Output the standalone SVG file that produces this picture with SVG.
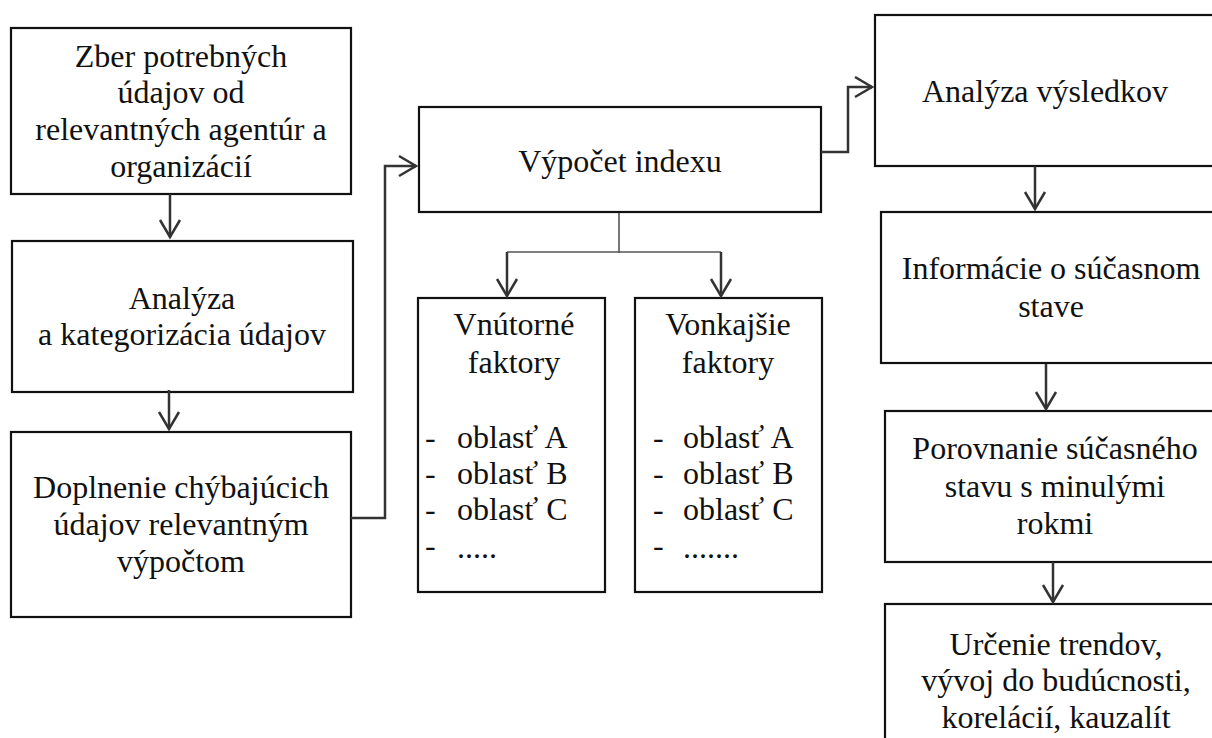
<svg xmlns="http://www.w3.org/2000/svg" width="1212" height="738" viewBox="0 0 1212 738">
<style>
.box{fill:#fff;stroke:#111;stroke-width:2.2}
text{font-family:"Liberation Serif","Times New Roman",serif;font-size:32px;fill:#111}
.t{text-anchor:middle}
.c{fill:none;stroke:#333;stroke-width:2.5}
.thin{fill:none;stroke:#555;stroke-width:1.6}
</style>
<defs>
<marker id="ah" markerUnits="userSpaceOnUse" viewBox="-2 -2 24 26" markerWidth="24" markerHeight="26" refX="18" refY="10" orient="auto">
<path d="M1,0 L18,10 L1,20" fill="none" stroke="#333" stroke-width="2.5"/>
</marker>
</defs>
<rect width="1212" height="738" fill="#fff"/>
<g id="n1"><rect class="box" x="11" y="28" width="340" height="166"/>
<text class="t" x="181" y="67">Zber potrebných</text>
<text class="t" x="181" y="103">údajov od</text>
<text class="t" x="181" y="140">relevantných agentúr a</text>
<text class="t" x="181" y="177">organizácií</text></g>
<g id="n2"><rect class="box" x="12" y="241" width="341" height="151"/>
<text class="t" x="182" y="309">Analýza</text>
<text class="t" x="182" y="345">a kategorizácia údajov</text></g>
<g id="n3"><rect class="box" x="11" y="432" width="340" height="185"/>
<text class="t" x="181" y="498">Doplnenie chýbajúcich</text>
<text class="t" x="181" y="535">údajov relevantným</text>
<text class="t" x="181" y="572">výpočtom</text></g>
<g id="n4"><rect class="box" x="419" y="107" width="402" height="105"/>
<text class="t" x="620" y="172">Výpočet indexu</text></g>
<g id="n5"><rect class="box" x="418" y="298" width="187" height="294"/>
<text class="t" x="514" y="335">Vnútorné</text>
<text class="t" x="514" y="373">faktory</text>
<text x="425" y="448">-</text><text x="457" y="448">oblasť A</text>
<text x="425" y="484">-</text><text x="457" y="484">oblasť B</text>
<text x="425" y="520">-</text><text x="457" y="520">oblasť C</text>
<text x="425" y="556">-</text><text x="457" y="558">.....</text></g>
<g id="n6"><rect class="box" x="635" y="298" width="187" height="294"/>
<text class="t" x="728" y="335">Vonkajšie</text>
<text class="t" x="728" y="373">faktory</text>
<text x="653" y="448">-</text><text x="683" y="448">oblasť A</text>
<text x="653" y="484">-</text><text x="683" y="484">oblasť B</text>
<text x="653" y="520">-</text><text x="683" y="520">oblasť C</text>
<text x="653" y="556">-</text><text x="683" y="558">.......</text></g>
<g id="n7"><rect class="box" x="875" y="15" width="340" height="151"/>
<text class="t" x="1045" y="102">Analýza výsledkov</text></g>
<g id="n8"><rect class="box" x="881" y="212" width="340" height="151"/>
<text class="t" x="1051" y="279">Informácie o súčasnom</text>
<text class="t" x="1051" y="317">stave</text></g>
<g id="n9"><rect class="box" x="885" y="411" width="340" height="151"/>
<text class="t" x="1055" y="459">Porovnanie súčasného</text>
<text class="t" x="1055" y="497">stavu s minulými</text>
<text class="t" x="1055" y="534">rokmi</text></g>
<g id="n10"><rect class="box" x="885" y="604" width="340" height="160"/>
<text class="t" x="1056" y="655">Určenie trendov,</text>
<text class="t" x="1056" y="691">vývoj do budúcnosti,</text>
<text class="t" x="1056" y="728">korelácií, kauzalít</text></g>
<g id="connectors">
<path class="c" d="M170,194 V237" marker-end="url(#ah)"/>
<path class="c" d="M169,390 V429" marker-end="url(#ah)"/>
<path class="c" d="M351,518 H385 V166 H416" marker-end="url(#ah)"/>
<path class="thin" d="M619,213 V253 M507,252 H721"/>
<path class="c" d="M507,252 V296" marker-end="url(#ah)"/>
<path class="c" d="M721,252 V296" marker-end="url(#ah)"/>
<path class="c" d="M821,152 H848 V87 H872" marker-end="url(#ah)"/>
<path class="c" d="M1035,166 V209" marker-end="url(#ah)"/>
<path class="c" d="M1046,364 V409" marker-end="url(#ah)"/>
<path class="c" d="M1053,562 V602" marker-end="url(#ah)"/>
</g>
</svg>
